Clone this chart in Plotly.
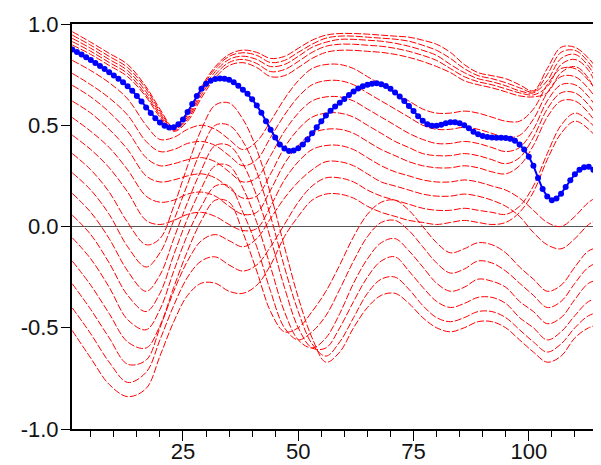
import plotly.graph_objects as go

knots = [1, 5, 9, 13, 17, 20, 23, 26, 29, 32, 35, 38, 41, 44, 47, 50, 53, 56, 59,
         62, 65, 68, 71, 74, 77, 80, 83, 86, 89, 92, 95, 98, 101, 104, 107, 110, 113, 116]

red_01 = [0.962, 0.91, 0.855, 0.80, 0.69, 0.58, 0.49, 0.56, 0.69, 0.79, 0.85, 0.871, 0.86, 0.83, 0.84, 0.88, 0.92, 0.945, 0.953,
          0.953, 0.95, 0.945, 0.94, 0.935, 0.92, 0.90, 0.86, 0.80, 0.76, 0.745, 0.73, 0.70, 0.67, 0.78, 0.885, 0.885, 0.83, 0.74]
red_02 = [0.945, 0.895, 0.84, 0.785, 0.68, 0.57, 0.485, 0.55, 0.68, 0.78, 0.84, 0.858, 0.845, 0.81, 0.82, 0.86, 0.90, 0.93, 0.94,
          0.94, 0.935, 0.93, 0.925, 0.915, 0.895, 0.87, 0.83, 0.78, 0.745, 0.73, 0.71, 0.685, 0.665, 0.75, 0.86, 0.87, 0.81, 0.70]
red_03 = [0.929, 0.88, 0.825, 0.77, 0.665, 0.56, 0.48, 0.54, 0.665, 0.765, 0.825, 0.841, 0.825, 0.79, 0.80, 0.84, 0.885, 0.91, 0.924,
          0.924, 0.92, 0.915, 0.905, 0.89, 0.87, 0.845, 0.80, 0.76, 0.73, 0.715, 0.695, 0.67, 0.66, 0.72, 0.83, 0.85, 0.79, 0.66]
red_04 = [0.913, 0.865, 0.81, 0.755, 0.65, 0.55, 0.475, 0.53, 0.65, 0.75, 0.81, 0.825, 0.805, 0.765, 0.775, 0.815, 0.86, 0.89, 0.90,
          0.90, 0.895, 0.89, 0.88, 0.865, 0.845, 0.82, 0.78, 0.74, 0.715, 0.70, 0.68, 0.66, 0.65, 0.69, 0.80, 0.825, 0.77, 0.61]
red_05 = [0.896, 0.85, 0.795, 0.74, 0.64, 0.54, 0.47, 0.52, 0.635, 0.735, 0.795, 0.809, 0.785, 0.74, 0.745, 0.785, 0.83, 0.86, 0.87,
          0.87, 0.865, 0.86, 0.85, 0.835, 0.815, 0.79, 0.76, 0.72, 0.70, 0.685, 0.665, 0.645, 0.64, 0.66, 0.76, 0.79, 0.73, 0.56]
red_06 = [0.82, 0.77, 0.71, 0.63, 0.50, 0.43, 0.44, 0.48, 0.50, 0.48, 0.43, 0.38, 0.42, 0.52, 0.63, 0.72, 0.78, 0.80, 0.80,
          0.78, 0.74, 0.70, 0.66, 0.62, 0.58, 0.56, 0.56, 0.57, 0.56, 0.54, 0.52, 0.52, 0.58, 0.70, 0.78, 0.78, 0.72, 0.62]
red_07 = [0.756, 0.70, 0.635, 0.55, 0.42, 0.37, 0.38, 0.41, 0.42, 0.40, 0.35, 0.30, 0.33, 0.44, 0.55, 0.64, 0.70, 0.72, 0.72,
          0.70, 0.66, 0.62, 0.58, 0.54, 0.50, 0.48, 0.48, 0.49, 0.48, 0.46, 0.44, 0.45, 0.53, 0.66, 0.74, 0.74, 0.68, 0.58]
red_08 = [0.697, 0.64, 0.565, 0.47, 0.34, 0.30, 0.31, 0.33, 0.34, 0.32, 0.27, 0.22, 0.24, 0.35, 0.47, 0.56, 0.62, 0.64, 0.64,
          0.62, 0.58, 0.54, 0.5, 0.46, 0.43, 0.41, 0.41, 0.42, 0.41, 0.39, 0.37, 0.39, 0.48, 0.62, 0.70, 0.70, 0.64, 0.54]
red_09 = [0.619, 0.56, 0.48, 0.38, 0.25, 0.22, 0.23, 0.25, 0.26, 0.24, 0.19, 0.14, 0.15, 0.26, 0.39, 0.48, 0.54, 0.56, 0.56,
          0.54, 0.5, 0.46, 0.42, 0.39, 0.36, 0.35, 0.35, 0.36, 0.35, 0.33, 0.31, 0.34, 0.44, 0.58, 0.66, 0.66, 0.6, 0.5]
red_10 = [0.538, 0.47, 0.39, 0.28, 0.15, 0.12, 0.13, 0.16, 0.17, 0.15, 0.1, 0.06, 0.07, 0.18, 0.31, 0.40, 0.46, 0.48, 0.48,
          0.46, 0.42, 0.38, 0.35, 0.32, 0.30, 0.29, 0.29, 0.30, 0.29, 0.27, 0.26, 0.30, 0.4, 0.54, 0.62, 0.62, 0.56, 0.46]
red_11 = [0.451, 0.38, 0.29, 0.17, 0.03, 0.01, 0.03, 0.06, 0.07, 0.05, 0.01, -0.02, -0.01, 0.1, 0.23, 0.32, 0.38, 0.40, 0.40,
          0.38, 0.34, 0.3, 0.27, 0.25, 0.23, 0.22, 0.22, 0.23, 0.22, 0.2, 0.18, 0.14, 0.08, 0.02, 0.0, 0.05, 0.12, 0.16]
red_12 = [0.36, 0.28, 0.17, 0.02, -0.09, -0.06, 0.10, 0.30, 0.48, 0.60, 0.61, 0.53, 0.38, 0.16, -0.1, -0.35, -0.55, -0.67, -0.62,
          -0.5, -0.4, -0.34, -0.33, -0.38, -0.45, -0.5, -0.52, -0.5, -0.47, -0.47, -0.5, -0.56, -0.62, -0.67, -0.64, -0.55, -0.5, -0.48]
red_13 = [0.265, 0.18, 0.06, -0.1, -0.2, -0.13, 0.03, 0.21, 0.38, 0.50, 0.50, 0.42, 0.27, 0.05, -0.2, -0.42, -0.58, -0.64, -0.57,
          -0.45, -0.33, -0.26, -0.25, -0.31, -0.39, -0.45, -0.47, -0.45, -0.42, -0.42, -0.45, -0.51, -0.57, -0.62, -0.58, -0.5, -0.44, -0.42]
red_14 = [0.163, 0.07, -0.06, -0.22, -0.32, -0.24, -0.06, 0.12, 0.28, 0.40, 0.40, 0.31, 0.15, -0.06, -0.3, -0.5, -0.6, -0.6, -0.5,
          -0.37, -0.25, -0.17, -0.15, -0.22, -0.3, -0.37, -0.4, -0.38, -0.35, -0.35, -0.38, -0.45, -0.5, -0.56, -0.52, -0.44, -0.37, -0.35]
red_15 = [0.056, -0.04, -0.18, -0.34, -0.42, -0.33, -0.14, 0.04, 0.19, 0.30, 0.30, 0.19, 0.02, -0.2, -0.42, -0.56, -0.6, -0.55, -0.43,
          -0.28, -0.16, -0.08, -0.06, -0.12, -0.2, -0.28, -0.32, -0.3, -0.26, -0.27, -0.3, -0.37, -0.42, -0.48, -0.45, -0.36, -0.28, -0.26]
red_16 = [-0.056, -0.16, -0.30, -0.46, -0.51, -0.41, -0.22, -0.04, 0.10, 0.20, 0.20, 0.07, -0.1, -0.32, -0.5, -0.56, -0.52, -0.44, -0.31,
          -0.17, -0.05, 0.02, 0.03, -0.02, -0.1, -0.18, -0.23, -0.21, -0.17, -0.18, -0.22, -0.28, -0.34, -0.4, -0.37, -0.28, -0.2, -0.17]
red_17 = [-0.171, -0.29, -0.43, -0.57, -0.60, -0.49, -0.30, -0.12, 0.03, 0.13, 0.12, -0.03, -0.22, -0.42, -0.52, -0.5, -0.42, -0.32, -0.19,
          -0.05, 0.06, 0.12, 0.13, 0.08, 0.0, -0.08, -0.13, -0.11, -0.08, -0.09, -0.13, -0.2, -0.26, -0.32, -0.29, -0.2, -0.12, -0.1]
red_18 = [-0.283, -0.41, -0.55, -0.68, -0.66, -0.50, -0.32, -0.17, -0.07, -0.04, -0.07, -0.10, -0.06, 0.04, 0.14, 0.22, 0.28, 0.32, 0.32,
          0.3, 0.26, 0.22, 0.2, 0.18, 0.16, 0.15, 0.15, 0.16, 0.15, 0.13, 0.1, 0.05, -0.03, -0.09, -0.11, -0.06, 0.01, 0.05]
red_19 = [-0.402, -0.53, -0.67, -0.77, -0.72, -0.56, -0.39, -0.25, -0.17, -0.15, -0.19, -0.22, -0.19, -0.1, 0.01, 0.12, 0.2, 0.24, 0.24,
          0.22, 0.18, 0.15, 0.13, 0.11, 0.09, 0.08, 0.08, 0.09, 0.08, 0.07, 0.06, 0.1, 0.2, 0.36, 0.5, 0.56, 0.52, 0.44]
red_20 = [-0.514, -0.65, -0.78, -0.84, -0.80, -0.64, -0.47, -0.34, -0.28, -0.28, -0.32, -0.33, -0.29, -0.19, -0.05, 0.05, 0.13, 0.16, 0.16,
          0.14, 0.1, 0.07, 0.05, 0.03, 0.02, 0.01, 0.02, 0.03, 0.02, 0.01, 0.02, 0.07, 0.17, 0.33, 0.46, 0.52, 0.48, 0.40]

red_curves = [red_01, red_02, red_03, red_04, red_05, red_06, red_07, red_08, red_09, red_10,
              red_11, red_12, red_13, red_14, red_15, red_16, red_17, red_18, red_19, red_20]

# blue series, one value per step
blue_x = list(range(1, 117))
blue_y = [0.874, 0.862, 0.849, 0.836, 0.822, 0.808, 0.793, 0.778, 0.762, 0.746,
          0.73, 0.712, 0.692, 0.67, 0.645, 0.617, 0.588, 0.56, 0.535, 0.514,
          0.498, 0.489, 0.49, 0.505, 0.529, 0.565, 0.605, 0.645, 0.68, 0.705,
          0.72, 0.728, 0.731, 0.73, 0.725, 0.712, 0.695, 0.675, 0.655, 0.628,
          0.598, 0.562, 0.52, 0.478, 0.44, 0.405, 0.385, 0.373, 0.375, 0.386,
          0.405, 0.43, 0.46, 0.49, 0.52, 0.548, 0.572, 0.593, 0.611, 0.63,
          0.65, 0.667, 0.682, 0.693, 0.7, 0.705, 0.707, 0.703, 0.694, 0.68,
          0.662, 0.642, 0.62, 0.595, 0.57, 0.545, 0.522, 0.505, 0.497, 0.497,
          0.502, 0.51, 0.515, 0.515, 0.51, 0.5, 0.485, 0.468, 0.455, 0.447,
          0.442, 0.439, 0.438, 0.438, 0.437, 0.433, 0.424, 0.405, 0.38, 0.345,
          0.3, 0.24, 0.185, 0.148, 0.13, 0.138, 0.162, 0.195, 0.228, 0.258,
          0.28, 0.293, 0.295, 0.28, 0.245, 0.205]

y_ticks = [-1.0, -0.5, 0.0, 0.5, 1.0]
y_labels = ["-1.0", "-0.5", "0.0", "0.5", "1.0"]

fig = go.Figure()
for ys in red_curves:
    fig.add_trace(go.Scatter(
        x=knots, y=ys, mode="lines",
        line=dict(color="#ff0000", width=1, dash="7px,2px", shape="spline"),
        hoverinfo="skip", showlegend=False))

fig.add_trace(go.Scatter(
    x=blue_x, y=blue_y, mode="lines+markers",
    line=dict(color="#0000ff", width=2),
    marker=dict(color="#0000ff", size=6),
    showlegend=False))

# the page adds an 8px body margin, so the figure is 8px smaller than the window
fig.update_layout(
    width=593, height=457,
    margin=dict(l=64, r=0, t=16, b=36),
    paper_bgcolor="white", plot_bgcolor="white",
    font=dict(family="Arial, Liberation Sans, sans-serif", size=22, color="#111111"),
    showlegend=False,
)
fig.update_xaxes(
    range=[0.93, 115.66], showgrid=False, zeroline=False, automargin=False,
    showline=True, linecolor="black", linewidth=2, mirror=True,
    ticks="outside", ticklen=10, tickwidth=1.3, tickcolor="black",
    tick0=0, dtick=25, ticklabelstandoff=-8,
    minor=dict(ticks="outside", ticklen=6, tickwidth=1.3, tickcolor="black", dtick=5, tick0=0, showgrid=False),
)
fig.update_yaxes(
    range=[-1, 1], showgrid=False, automargin=False,
    zeroline=True, zerolinecolor="#555555", zerolinewidth=1.3,
    showline=True, linecolor="black", linewidth=2,
    ticks="outside", ticklen=9, tickwidth=1.3, tickcolor="black",
    tickvals=y_ticks, ticktext=y_labels, ticklabelstandoff=-2,
)

fig.write_html("out.html")
